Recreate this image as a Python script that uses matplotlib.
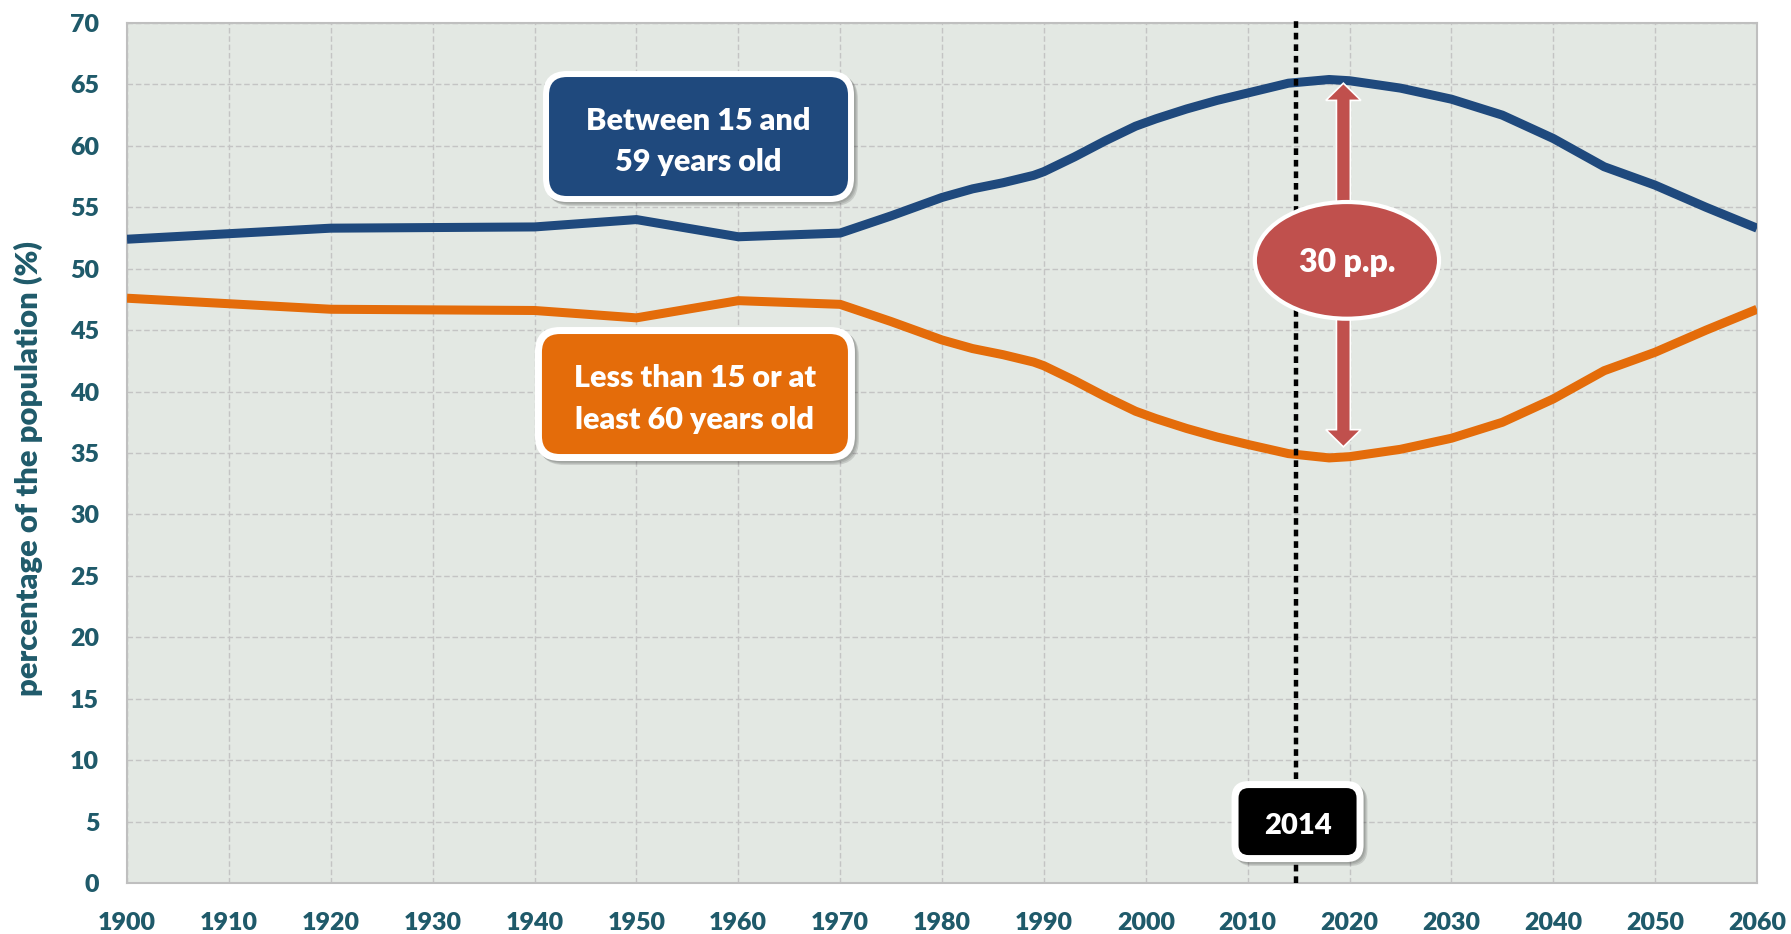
import matplotlib
matplotlib.use("Agg")
import matplotlib.pyplot as plt
from matplotlib.patches import FancyBboxPatch, Ellipse, FancyArrow
from matplotlib.transforms import Affine2D, ScaledTranslation

# ---------------- data ----------------
years = [1900, 1920, 1940, 1950, 1960, 1970, 1975, 1980, 1983, 1986, 1989, 1990,
         1993, 1996, 1999, 2000, 2001, 2004, 2007, 2010, 2014, 2018, 2020, 2025,
         2030, 2035, 2040, 2045, 2050, 2055, 2060]
working_age = [52.4, 53.3, 53.4, 54.0, 52.6, 52.9, 54.3, 55.8, 56.5, 57.0, 57.6, 57.9,
               59.1, 60.4, 61.6, 61.9, 62.2, 63.0, 63.7, 64.3, 65.1, 65.4, 65.3, 64.7,
               63.8, 62.5, 60.6, 58.3, 56.8, 55.0, 53.3]
dependent_age = [47.6, 46.7, 46.6, 46.0, 47.4, 47.1, 45.7, 44.2, 43.5, 43.0, 42.4, 42.1,
                 40.9, 39.6, 38.4, 38.1, 37.8, 37.0, 36.3, 35.7, 34.95, 34.6, 34.7, 35.3,
                 36.2, 37.5, 39.4, 41.7, 43.2, 45.0, 46.7]
x_ticks = list(range(1900, 2061, 10))
y_ticks = list(range(0, 71, 5))
label_working = "Between 15 and\n59 years old"
label_dependent = "Less than 15 or at\nleast 60 years old"
marker_year = 2014.7
marker_label = "2014"
gap_label = "30 p.p."
gap_year = 2019.4
gap_top, gap_bottom = 65.1, 35.5
y_label = "percentage of the population (%)"

# ---------------- style ----------------
WEIGHT = 800
plt.rcParams['font.family'] = ['Lato', 'DejaVu Sans']
plt.rcParams['font.weight'] = WEIGHT
BLUE = '#1F497D'
ORANGE = '#E46C0A'
RED = '#C0504D'
TEAL = '#1F5A6A'
BG = '#E3E8E3'

W, H = 1791, 934
fig = plt.figure(figsize=(W / 100, H / 100), dpi=100)
ax = fig.add_axes([127 / W, 1 - 883 / H, 1630 / W, 860 / H])
ax.set_facecolor(BG)
ax.set_xlim(1900, 2060)
ax.set_ylim(0, 70)
ax.set_xticks(x_ticks)
ax.set_xticklabels([str(v) for v in x_ticks], fontweight=WEIGHT)
ax.set_yticks(y_ticks)
ax.set_yticklabels([str(v) for v in y_ticks], fontweight=WEIGHT)
for sp in ax.spines.values():
    sp.set_color('#BFBFBF')
    sp.set_linewidth(1.5)
ax.grid(True, color='#C4C4C4', linestyle=(0, (4, 2)), linewidth=1.0)
ax.set_axisbelow(True)
ax.tick_params(length=0, labelsize=18, labelcolor=TEAL)
ax.tick_params(axis='y', pad=20)
ax.tick_params(axis='x', pad=21)

fig.text(28 / W, 1 - 468 / H, y_label, rotation=90, ha='center', va='center',
         color=TEAL, fontsize=22.3, fontweight=WEIGHT)

# lines
ax.plot(years, working_age, color=BLUE, lw=6.5, solid_joinstyle='round',
        solid_capstyle='butt', zorder=3)
ax.plot(years, dependent_age, color=ORANGE, lw=6.5, solid_joinstyle='round',
        solid_capstyle='butt', zorder=3)

# dotted marker line
ax.plot([marker_year, marker_year], [0, 70.45], color='black', lw=3.2,
        linestyle=(0, (1.5, 1.1)), dash_capstyle='butt', clip_on=False, zorder=4)


def anchor(x, y):
    # reference-pixel offsets around a data point
    return Affine2D().scale(0.01) + fig.dpi_scale_trans + ScaledTranslation(x, y, ax.transData)


def label_box(x, y, w, h, r, border, color, text, lines_gap, fs, z=6):
    T = anchor(x, y)
    for k, a in enumerate([0.10, 0.10, 0.12]):
        d = 1.5 + k * 1.2
        ax.add_patch(FancyBboxPatch((-w / 2 - border + d, -h / 2 - border - d),
                                    w + 2 * border, h + 2 * border,
                                    boxstyle=f"round,pad=0,rounding_size={r + border}",
                                    transform=T, facecolor='black', edgecolor='none',
                                    alpha=a, zorder=z, clip_on=False))
    ax.add_patch(FancyBboxPatch((-w / 2 - border, -h / 2 - border),
                                w + 2 * border, h + 2 * border,
                                boxstyle=f"round,pad=0,rounding_size={r + border}",
                                transform=T, facecolor='white', edgecolor='none',
                                zorder=z + 0.1, clip_on=False))
    ax.add_patch(FancyBboxPatch((-w / 2, -h / 2), w, h,
                                boxstyle=f"round,pad=0,rounding_size={r}",
                                transform=T, facecolor=color, edgecolor='none',
                                zorder=z + 0.2, clip_on=False))
    parts = text.split("\n")
    n = len(parts)
    for i, t in enumerate(parts):
        off = (n - 1) / 2 * lines_gap - i * lines_gap
        ax.text(0, off - 2, t, transform=T, ha='center', va='center_baseline',
                color='white', fontsize=fs, fontweight=WEIGHT, zorder=z + 0.3)


label_box(1956.1, 60.76, 299, 119, 18, 6, BLUE, label_working, 41, 22)
label_box(1955.75, 39.8, 306, 120, 18, 7, ORANGE, label_dependent, 42, 22)
label_box(marker_year + 0.2, 5.0, 118, 67, 10, 7, 'black', marker_label, 0, 21)

# double-headed arrow
mid = (gap_top + gap_bottom) / 2
for end in (gap_top, gap_bottom):
    ax.add_patch(FancyArrow(gap_year, mid, 0, end - mid, width=1.37, head_width=3.45,
                            head_length=1.4, length_includes_head=True,
                            facecolor=RED, edgecolor='white', linewidth=1.2, zorder=7))

ax.add_patch(Ellipse((2019.75, 50.68), 184.2 / 10.1875, 116.7 / 12.286,
                     facecolor=RED, edgecolor='white', linewidth=3.0, zorder=8))
ax.text(2019.75, 50.68, gap_label, ha='center', va='center_baseline', color='white',
        fontsize=23, fontweight=WEIGHT, zorder=9)

fig.savefig('out.png', dpi=100)
